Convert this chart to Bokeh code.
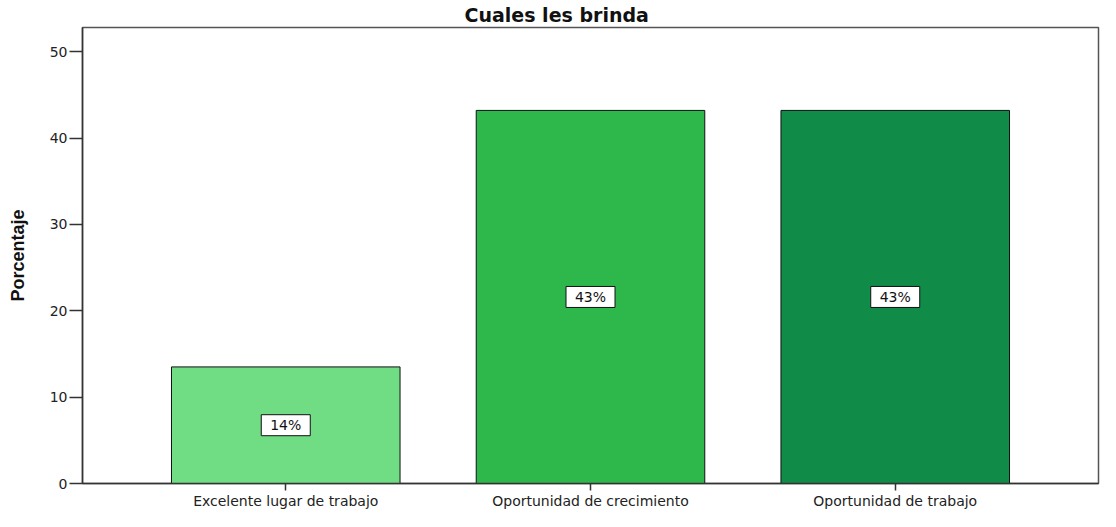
from bokeh.plotting import figure
from bokeh.models import Range1d, FixedTicker, ColumnDataSource
from bokeh.core.properties import value
from bokeh.embed import file_html
from bokeh.resources import INLINE

categories = ["Excelente lugar de trabajo", "Oportunidad de crecimiento", "Oportunidad de trabajo"]
percentages = [13.5, 43.2, 43.2]
bar_labels = ["14%", "43%", "43%"]
bar_colors = ["#70dc84", "#2eb84c", "#108c48"]
y_ticks = [0, 10, 20, 30, 40, 50]

positions = list(range(1, len(categories) + 1))
mids = [v / 2 for v in percentages]

src = ColumnDataSource(dict(x=positions, top=percentages, mid=mids,
                            label=bar_labels, color=bar_colors))

FONT = "DejaVu Sans"

p = figure(width=1100, height=511,
           x_range=Range1d(0.333, 3.667), y_range=Range1d(0, 52.8),
           output_backend="svg", toolbar_location=None,
           min_border_left=82, min_border_right=2,
           min_border_top=26, min_border_bottom=22,
           background_fill_color="white", border_fill_color="white")

p.title.text = "Cuales les brinda"
p.title.align = "left"
p.title.offset = 382
p.title.text_font = FONT
p.title.text_font_size = "19px"
p.title.text_font_style = "bold"
p.title.text_color = "#111111"
p.title.standoff = 3

p.vbar(x="x", top="top", width=0.75, fill_color="color", line_color="#111111",
       line_width=1, source=src)

p.rect(x="x", y="mid", width=49, height=21, width_units="screen", height_units="screen",
       fill_color="white", line_color="#111111", line_width=1, source=src)
p.text(x="x", y="mid", text="label", text_align="center", text_baseline="middle",
       text_font=value(FONT), text_font_size="14px", text_color="#111111", source=src)

p.xgrid.visible = False
p.ygrid.visible = False
p.outline_line_color = "#555555"
p.outline_line_width = 1.5

xa = p.xaxis[0]
xa.ticker = FixedTicker(ticks=positions)
xa.major_label_overrides = {x: c for x, c in zip(positions, categories)}
xa.axis_line_color = "#333333"
xa.axis_line_width = 1.5
xa.major_tick_line_color = "#333333"
xa.major_tick_line_width = 1.5
xa.major_tick_out = 7
xa.major_tick_in = 0
xa.minor_tick_out = 0
xa.minor_tick_in = 0
xa.major_label_text_font = FONT
xa.major_label_text_font_size = "14px"
xa.major_label_text_color = "#222222"
xa.major_label_standoff = 2

ya = p.yaxis[0]
ya.ticker = FixedTicker(ticks=y_ticks)
ya.axis_line_color = "#333333"
ya.axis_line_width = 1.5
ya.major_tick_line_color = "#333333"
ya.major_tick_line_width = 1.5
ya.major_tick_out = 13
ya.major_tick_in = 0
ya.minor_tick_out = 0
ya.minor_tick_in = 0
ya.major_label_text_font = FONT
ya.major_label_text_font_size = "14px"
ya.major_label_text_color = "#222222"
ya.major_label_standoff = 2
ya.axis_label = "Porcentaje"
ya.axis_label_text_font = "Liberation Sans"
ya.axis_label_text_font_size = "18px"
ya.axis_label_text_font_style = "bold"
ya.axis_label_text_color = "#111111"
ya.axis_label_standoff = 19

open("out.html", "w").write(file_html(p, INLINE))
